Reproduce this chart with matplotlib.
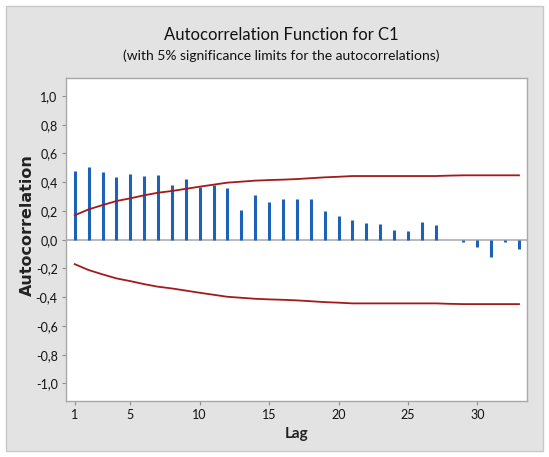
import matplotlib.pyplot as plt
from matplotlib.patches import Rectangle

# autocorrelations read per lag, and the 5% significance limit (upper; lower is mirrored)
lags = list(range(1, 34))
acf = [0.48, 0.508, 0.473, 0.434, 0.457, 0.443, 0.450, 0.383, 0.422, 0.369,
       0.383, 0.360, 0.207, 0.311, 0.262, 0.281, 0.281, 0.281, 0.202, 0.163,
       0.135, 0.116, 0.109, 0.070, 0.058, 0.123, 0.102, 0.0, -0.019, -0.049,
       -0.122, -0.019, -0.063]
limit = [0.170, 0.211, 0.241, 0.269, 0.288, 0.309, 0.327, 0.339, 0.354, 0.369,
         0.383, 0.397, 0.404, 0.411, 0.415, 0.418, 0.422, 0.428, 0.434, 0.438,
         0.443, 0.443, 0.443, 0.443, 0.443, 0.443, 0.443, 0.446, 0.448, 0.448,
         0.448, 0.448, 0.448]
xticks = [1, 5, 10, 15, 20, 25, 30]
yticks = [1.0, 0.8, 0.6, 0.4, 0.2, 0.0, -0.2, -0.4, -0.6, -0.8, -1.0]

plt.rcParams['font.family'] = ['Lato', 'DejaVu Sans']

W, H = 549, 457
fig = plt.figure(figsize=(W / 100, H / 100), dpi=100)
fig.patch.set_facecolor('white')
fig.patches.append(Rectangle((6 / W, 6 / H), 537 / W, 445 / H, transform=fig.transFigure,
                             facecolor='#e3e3e3', edgecolor='#c8c8c8', lw=1, zorder=-5))

ax = fig.add_axes([66 / W, 1 - 400.7 / H, 461.3 / W, 322.4 / H])
ax.set_zorder(2)
ax.set_facecolor('white')

ax.axhline(0, color='#b4b4b4', lw=1.3, zorder=1)
ax.vlines(lags, 0, acf, color='#1c62b8', lw=2.2, zorder=2)
ax.plot(lags, limit, color='#a31a1a', lw=1.3, zorder=3)
ax.plot(lags, [-v for v in limit], color='#a31a1a', lw=1.3, zorder=3)

ax.set_xlim(0.37, 33.6)
ax.set_ylim(-1.12, 1.123)
ax.set_xticks(xticks)
ax.set_yticks(yticks)
ax.set_yticklabels([f'{v:.1f}'.replace('.', ',') for v in yticks])
ax.tick_params(direction='out', length=3, width=0.8, color='#909090',
               labelsize=9, labelcolor='#111111', pad=3)

for s in ax.spines.values():
    s.set_color('#a8a8a8')
    s.set_linewidth(1)

ax.set_xlabel('Lag', fontsize=11, fontweight='bold', color='#222222', labelpad=4)
ax.set_ylabel('Autocorrelation', fontsize=11.5, fontweight='bold', color='#222222',
              family='DejaVu Sans')
ax.yaxis.set_label_coords(-0.067, 0.545)

fig.text(281 / W, 1 - 35 / H, 'Autocorrelation Function for C1', ha='center', va='center',
         fontsize=12, color='#111111')
fig.text(281 / W, 1 - 56 / H, '(with 5% significance limits for the autocorrelations)',
         ha='center', va='center', fontsize=10, color='#111111')

fig.savefig('out.png', dpi=100)
